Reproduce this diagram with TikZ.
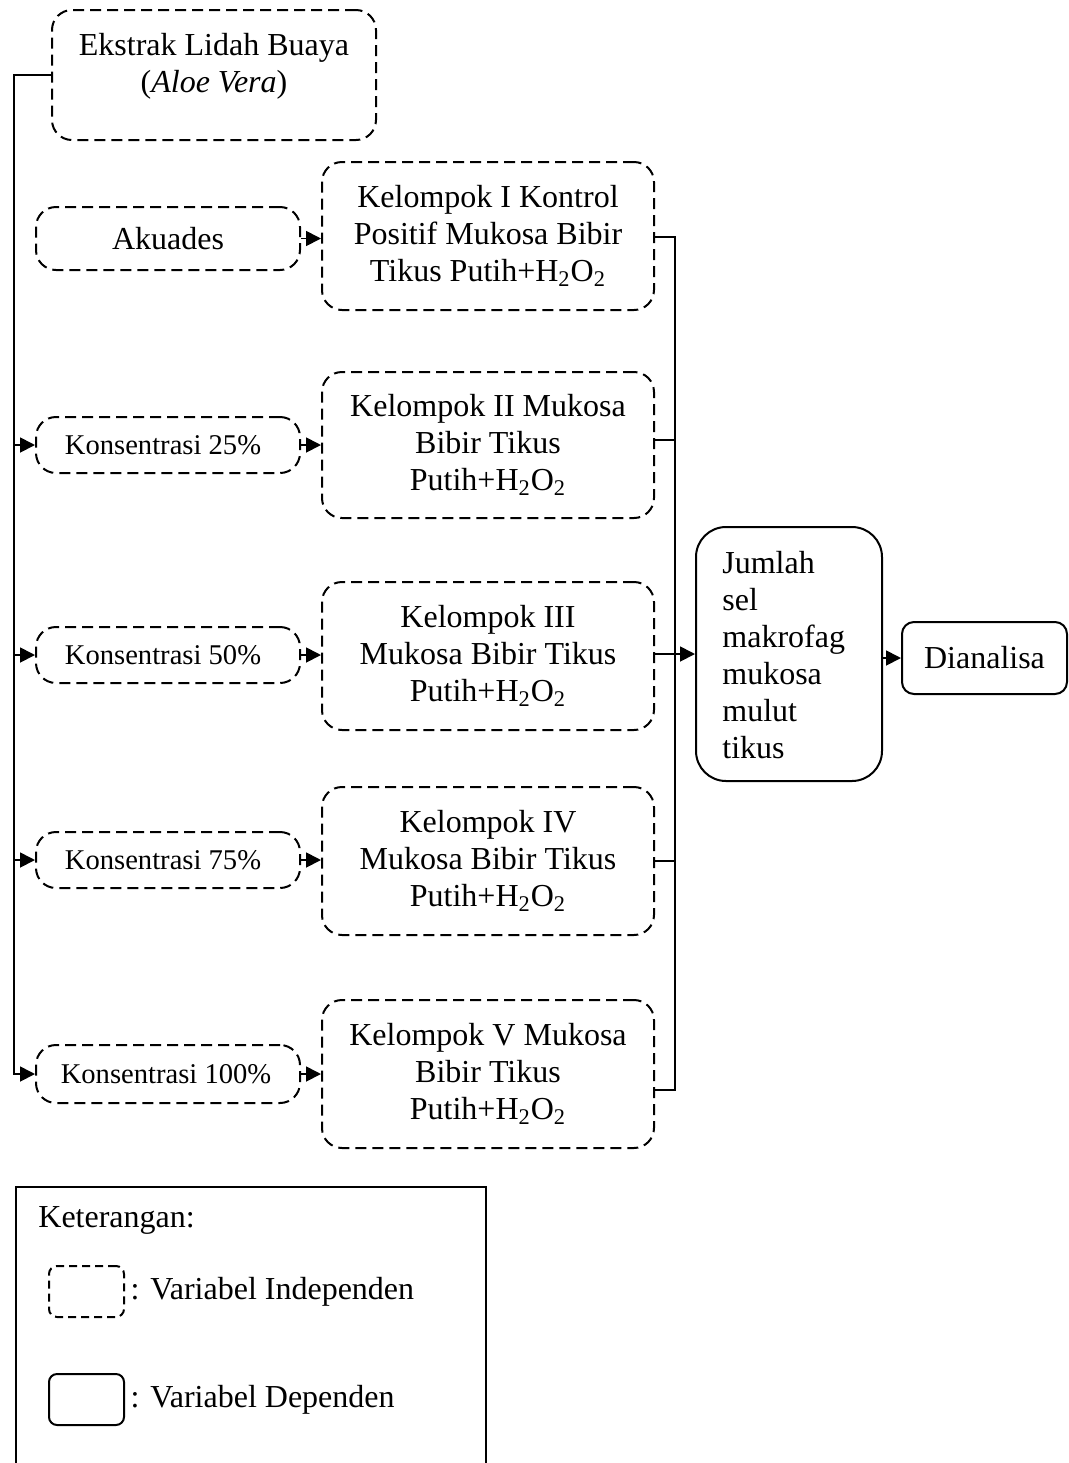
\documentclass[tikz,border=0pt]{standalone}
\usepackage{fontspec}
\setmainfont{Liberation Serif}
\usetikzlibrary{arrows.meta}
\begin{document}
\begin{tikzpicture}[x=0.5pt,y=-0.5pt,
  base/.style={inner sep=0pt, align=center, font=\fontsize{16}{18.5}\selectfont},
  indep/.style={base, draw, line width=1pt, dash pattern=on 5.5pt off 3pt, rounded corners=10pt},
  dep/.style={base, draw, line width=1pt, rounded corners=15pt},
  small/.style={font=\fontsize{14.3}{17}\selectfont},
  lbl/.style={inner sep=0pt, align=center, font=\fontsize{16}{18.5}\selectfont},
  conn/.style={line width=0.9pt},
  arr/.style={line width=0.9pt, -{Triangle[length=7.5pt,width=7.5pt]}}
]
\useasboundingbox (0,0) rectangle (1069,1463);

% top box
\node[indep, minimum width=162pt, minimum height=65pt] (ek) at (214,75) {};
\node[lbl] (ektxt) at (214,66) {Ekstrak Lidah Buaya\\(\textit{Aloe Vera})};

% left column
\node[indep, minimum width=132pt, minimum height=31.5pt] (ak) at (168,238.5) {Akuades};
\node[indep, small, minimum width=132pt, minimum height=28pt] (k25) at (168,445) {Konsentrasi 25\%\hspace{5pt}};
\node[indep, small, minimum width=132pt, minimum height=28pt] (k50) at (168,655) {Konsentrasi 50\%\hspace{5pt}};
\node[indep, small, minimum width=132pt, minimum height=28pt] (k75) at (168,860) {Konsentrasi 75\%\hspace{5pt}};
\node[indep, small, minimum width=132pt, minimum height=29pt] (k100) at (168,1074) {Konsentrasi 100\%\hspace{2pt}};

% groups
\node[indep, minimum width=166pt, minimum height=74pt] (g1) at (488,236) {Kelompok I Kontrol\\Positif Mukosa Bibir\\Tikus Putih+H\textsubscript{2}O\textsubscript{2}};
\node[indep, minimum width=166pt, minimum height=73pt] (g2) at (488,445) {Kelompok II Mukosa\\Bibir Tikus\\Putih+H\textsubscript{2}O\textsubscript{2}};
\node[indep, minimum width=166pt, minimum height=74pt] (g3) at (488,656) {Kelompok III\\Mukosa Bibir Tikus\\Putih+H\textsubscript{2}O\textsubscript{2}};
\node[indep, minimum width=166pt, minimum height=74pt] (g4) at (488,861) {Kelompok IV\\Mukosa Bibir Tikus\\Putih+H\textsubscript{2}O\textsubscript{2}};
\node[indep, minimum width=166pt, minimum height=74pt] (g5) at (488,1074) {Kelompok V Mukosa\\Bibir Tikus\\Putih+H\textsubscript{2}O\textsubscript{2}};

% dependent
\node[dep, minimum width=93pt, minimum height=127pt] (jm) at (789,654) {};
\node[lbl, anchor=west, align=left] (jmtxt) at (722,655.5) {Jumlah\\sel\\makrofag\\mukosa\\mulut\\tikus};
\node[dep, rounded corners=6pt, minimum width=82.5pt, minimum height=36pt] (di) at (984.5,658) {Dianalisa};

% left connector
\coordinate (L) at (14,75);
\draw[arr] (ek.west) -- (L) |- (k100.west);
\draw[arr] (L |- k25.west) -- (k25.west);
\draw[arr] (L |- k50.west) -- (k50.west);
\draw[arr] (L |- k75.west) -- (k75.west);

% left to groups
\draw[arr] (ak.east) -- (ak.east -| g1.west);
\draw[arr] (k25.east) -- (k25.east -| g2.west);
\draw[arr] (k50.east) -- (k50.east -| g3.west);
\draw[arr] (k75.east) -- (k75.east -| g4.west);
\draw[arr] (k100.east) -- (k100.east -| g5.west);

% right connector
\coordinate (Rt) at (675,237);
\coordinate (Rb) at (675,1090);
\draw[conn] (g1.east |- Rt) -- (Rt) -- (Rb) -- (g5.east |- Rb);
\draw[conn] (654,440) -- (Rt |- 0,440);
\draw[conn] (g4.east) -- (g4.east -| Rt);
\draw[arr] (g3.east |- jm.west) -- (jm.west);
\draw[arr] (jm.east |- di.west) -- (di.west);

% legend
\draw[line width=1pt] (16,1470) -- (16,1187) -- (486,1187) -- (486,1470);
\node[lbl, anchor=west] (ket) at (38,1220) {Keterangan:};
\node[indep, rounded corners=4pt, dash pattern=on 4pt off 2.5pt, minimum width=37.5pt, minimum height=25.5pt] (lgi) at (86.5,1291.5) {};
\node[lbl, anchor=west] (lgitxt) at (lgi.east) {\,: Variabel Independen};
\node[dep, rounded corners=4pt, minimum width=37.5pt, minimum height=25.5pt] (lgd) at (86.5,1399.5) {};
\node[lbl, anchor=west] (lgdtxt) at (lgd.east) {\,: Variabel Dependen};
\end{tikzpicture}
\end{document}
